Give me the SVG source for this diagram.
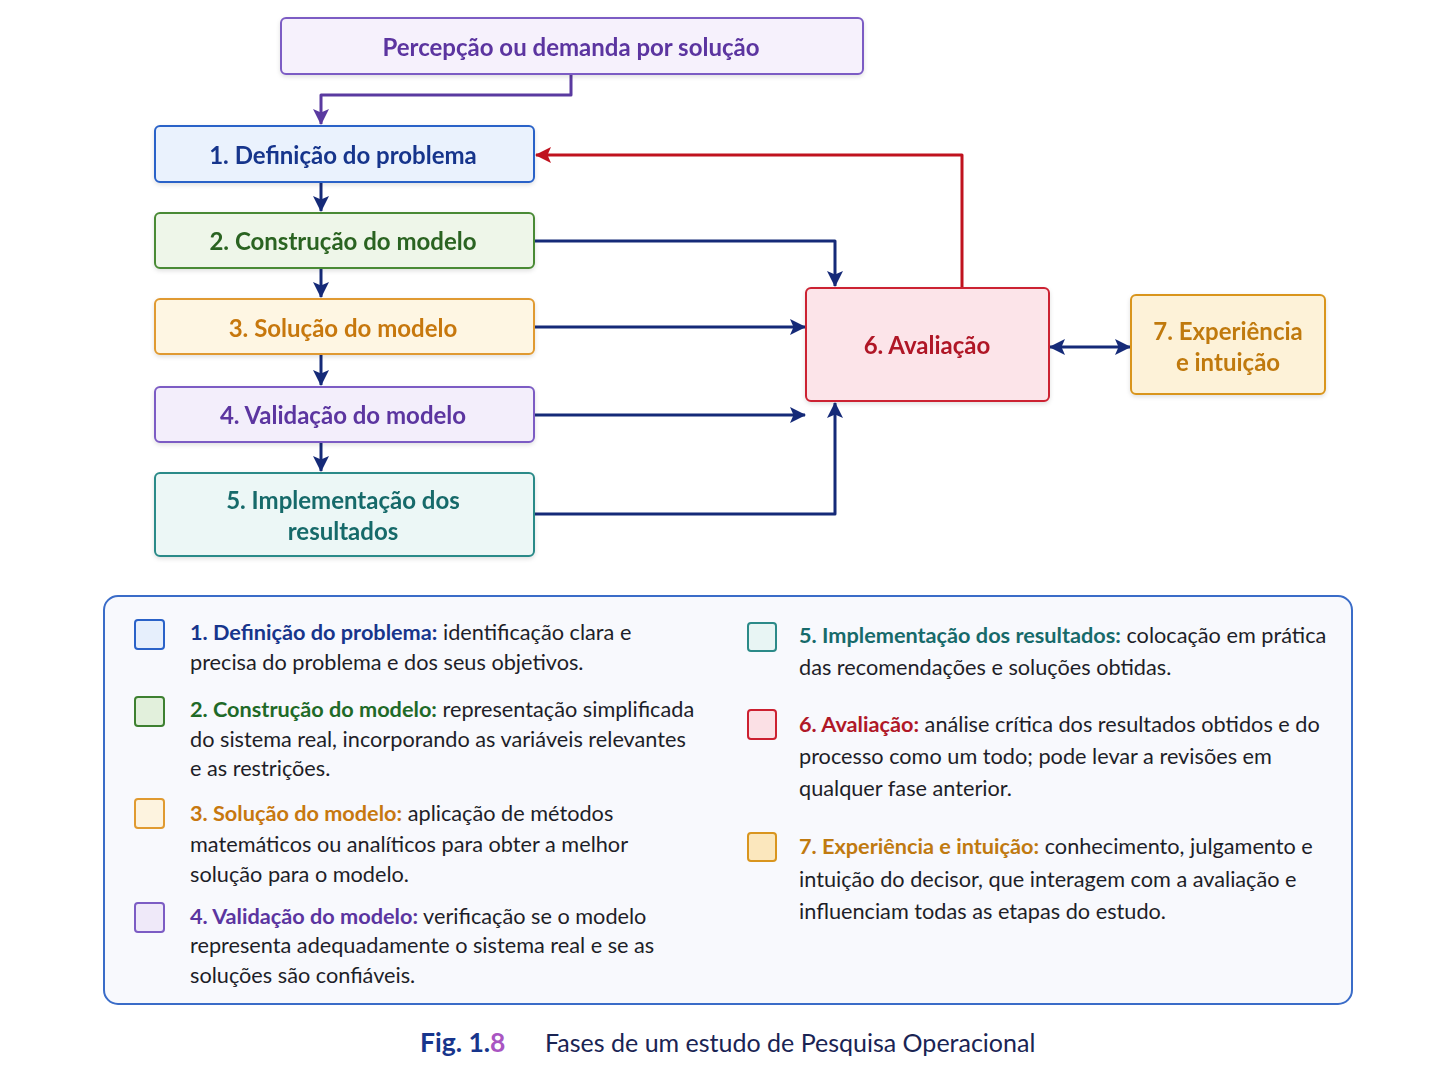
<svg xmlns="http://www.w3.org/2000/svg" width="1448" height="1086" viewBox="0 0 1448 1086">
<style>
.lbl{font-family:Lato,"Noto Sans","Liberation Sans",sans-serif;font-weight:700;font-size:24px;text-anchor:middle}
.lg{font-family:Lato,"Noto Sans","Liberation Sans",sans-serif;font-size:21.7px;fill:#1e1e28}
.lg .b{font-weight:700}
.cn{fill:none;stroke:#152a78;stroke-width:3;stroke-linejoin:round}
.sq{stroke-width:2}
</style>
<defs>
<marker id="ah" viewBox="0 0 16 16" refX="15" refY="8" markerWidth="16" markerHeight="16" markerUnits="userSpaceOnUse" orient="auto-start-reverse">
<path d="M0,0 L16,8 L0,16 L3.5,8 Z" fill="#152a78"/>
</marker>
<marker id="ahp" viewBox="0 0 16 16" refX="15" refY="8" markerWidth="16" markerHeight="16" markerUnits="userSpaceOnUse" orient="auto">
<path d="M0,0 L16,8 L0,16 L3.5,8 Z" fill="#5a3aa0"/>
</marker>
<marker id="ahr" viewBox="0 0 16 16" refX="15" refY="8" markerWidth="16" markerHeight="16" markerUnits="userSpaceOnUse" orient="auto">
<path d="M0,0 L16,8 L0,16 L3.5,8 Z" fill="#c0121e"/>
</marker>
<filter id="sh" x="-5%" y="-10%" width="110%" height="130%">
<feDropShadow dx="0" dy="2" stdDeviation="2" flood-color="#000" flood-opacity="0.12"/>
</filter>
</defs>
<rect width="1448" height="1086" fill="#ffffff"/>

<g id="connectors">
<path class="cn" d="M571,74 V95 H321 V124" style="stroke:#5a3aa0" marker-end="url(#ahp)"/>
<path class="cn" d="M321,182 V211" marker-end="url(#ah)"/>
<path class="cn" d="M321,268 V297" marker-end="url(#ah)"/>
<path class="cn" d="M321,354 V385" marker-end="url(#ah)"/>
<path class="cn" d="M321,442 V471" marker-end="url(#ah)"/>
<path class="cn" d="M534,241 H835 V286" marker-end="url(#ah)"/>
<path class="cn" d="M534,327 H805" marker-end="url(#ah)"/>
<path class="cn" d="M534,415 H805" marker-end="url(#ah)"/>
<path class="cn" d="M534,514 H835 V403" marker-end="url(#ah)"/>
<path class="cn" d="M1050,347 H1130" marker-start="url(#ah)" marker-end="url(#ah)"/>
<path class="cn" d="M962,288 V155 H536" style="stroke:#c0121e" marker-end="url(#ahr)"/>
</g>

<g id="n0" filter="url(#sh)">
<rect x="281" y="18" width="582" height="56" rx="5" fill="#f6f1fc" stroke="#7c5cc4" stroke-width="2"/>
<text class="lbl" x="571" y="56" fill="#5b35a0">Percepção ou demanda por solução</text>
</g>
<g id="n1" filter="url(#sh)">
<rect x="155" y="126" width="379" height="56" rx="5" fill="#eaf2fd" stroke="#2a62c8" stroke-width="2"/>
<text class="lbl" x="343" y="164" fill="#17358c">1. Definição do problema</text>
</g>
<g id="n2" filter="url(#sh)">
<rect x="155" y="213" width="379" height="55" rx="5" fill="#eef6e9" stroke="#4a8a35" stroke-width="2"/>
<text class="lbl" x="343" y="250" fill="#2b6420">2. Construção do modelo</text>
</g>
<g id="n3" filter="url(#sh)">
<rect x="155" y="299" width="379" height="55" rx="5" fill="#fef6e3" stroke="#e09a30" stroke-width="2"/>
<text class="lbl" x="343" y="337" fill="#c7780f">3. Solução do modelo</text>
</g>
<g id="n4" filter="url(#sh)">
<rect x="155" y="387" width="379" height="55" rx="5" fill="#f3eefb" stroke="#7c5cc4" stroke-width="2"/>
<text class="lbl" x="343" y="424" fill="#5b35a0">4. Validação do modelo</text>
</g>
<g id="n5" filter="url(#sh)">
<rect x="155" y="473" width="379" height="83" rx="5" fill="#ecf7f6" stroke="#2b8a88" stroke-width="2"/>
<text class="lbl" x="343" y="509" fill="#176a6a">5. Implementação dos</text>
<text class="lbl" x="343" y="540" fill="#176a6a">resultados</text>
</g>
<g id="n6" filter="url(#sh)">
<rect x="806" y="288" width="243" height="113" rx="5" fill="#fce4e9" stroke="#cc2030" stroke-width="2"/>
<text class="lbl" x="927" y="354" fill="#b01828">6. Avaliação</text>
</g>
<g id="n7" filter="url(#sh)">
<rect x="1131" y="295" width="194" height="99" rx="5" fill="#fdf2d8" stroke="#d9951e" stroke-width="2"/>
<text class="lbl" x="1228" y="340" fill="#c07a10">7. Experiência</text>
<text class="lbl" x="1228" y="371" fill="#c07a10">e intuição</text>
</g>

<g id="legend">
<rect x="104" y="596" width="1248" height="408" rx="14" fill="#f8f9fd" stroke="#3a6cc8" stroke-width="2"/>
<rect class="sq" x="135" y="620" width="29" height="29" rx="3" fill="#e6effc" stroke="#2a62c8"/>
<rect class="sq" x="135" y="697" width="29" height="29" rx="3" fill="#e2f0dc" stroke="#3d8030"/>
<rect class="sq" x="135" y="799" width="29" height="29" rx="3" fill="#fdf3df" stroke="#e09a30"/>
<rect class="sq" x="135" y="903" width="29" height="29" rx="3" fill="#efe9f9" stroke="#7c5cc4"/>
<rect class="sq" x="748" y="623" width="28" height="28" rx="3" fill="#e8f5f4" stroke="#2b8a88"/>
<rect class="sq" x="748" y="710" width="28" height="29" rx="3" fill="#fbe0e5" stroke="#cc2030"/>
<rect class="sq" x="748" y="833" width="28" height="28" rx="3" fill="#fbe7bd" stroke="#d9951e"/>

<text class="lg" x="190" y="640"><tspan class="b" fill="#17358c">1. Definição do problema:</tspan> identificação clara e</text>
<text class="lg" x="190" y="670">precisa do problema e dos seus objetivos.</text>

<text class="lg" x="190" y="717"><tspan class="b" fill="#1f6a28">2. Construção do modelo:</tspan> representação simplificada</text>
<text class="lg" x="190" y="747">do sistema real, incorporando as variáveis relevantes</text>
<text class="lg" x="190" y="776">e as restrições.</text>

<text class="lg" x="190" y="821"><tspan class="b" fill="#c7780f">3. Solução do modelo:</tspan> aplicação de métodos</text>
<text class="lg" x="190" y="852">matemáticos ou analíticos para obter a melhor</text>
<text class="lg" x="190" y="882">solução para o modelo.</text>

<text class="lg" x="190" y="924"><tspan class="b" fill="#5b35a0">4. Validação do modelo:</tspan> verificação se o modelo</text>
<text class="lg" x="190" y="953">representa adequadamente o sistema real e se as</text>
<text class="lg" x="190" y="983">soluções são confiáveis.</text>

<text class="lg" x="799" y="643"><tspan class="b" fill="#176a6a">5. Implementação dos resultados:</tspan> colocação em prática</text>
<text class="lg" x="799" y="675">das recomendações e soluções obtidas.</text>

<text class="lg" x="799" y="732"><tspan class="b" fill="#b01828">6. Avaliação:</tspan> análise crítica dos resultados obtidos e do</text>
<text class="lg" x="799" y="764">processo como um todo; pode levar a revisões em</text>
<text class="lg" x="799" y="796">qualquer fase anterior.</text>

<text class="lg" x="799" y="854"><tspan class="b" fill="#c07a10">7. Experiência e intuição:</tspan> conhecimento, julgamento e</text>
<text class="lg" x="799" y="887">intuição do decisor, que interagem com a avaliação e</text>
<text class="lg" x="799" y="919">influenciam todas as etapas do estudo.</text>
</g>

<g id="caption" font-family="Lato,'Noto Sans','Liberation Sans',sans-serif" font-size="25">
<text x="420" y="1052" font-weight="700" font-size="26.5" fill="#17358c">Fig. 1.<tspan fill="#a955c2">8</tspan></text>
<text x="545" y="1052" fill="#1a2454">Fases de um estudo de Pesquisa Operacional</text>
</g>
</svg>
